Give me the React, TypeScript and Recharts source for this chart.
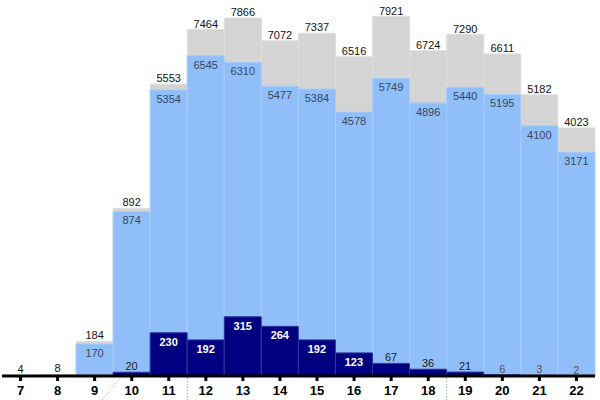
import { Bar, BarChart, LabelList, XAxis, YAxis } from "recharts";

const hours = ["7", "8", "9", "10", "11", "12", "13", "14", "15", "16", "17", "18", "19", "20", "21", "22"];
const totals = [4, 8, 184, 892, 5553, 7464, 7866, 7072, 7337, 6516, 7921, 6724, 7290, 6611, 5182, 4023];
const base = [null, null, 170, 874, 5354, 6545, 6310, 5477, 5384, 4578, 5749, 4896, 5440, 5195, 4100, 3171];
const peak = [null, null, null, 20, 230, 192, 315, 264, 192, 123, 67, 36, 21, 6, 3, 2];

// the value axis is broken: linear up to ~900, compressed above
const breakIn = [0, 892, 3171, 7921];
const breakOut = [0, 892, 1190, 1912];

// dotted separators drawn under the axis, before the given hour
const dividers: Record<string, "slant" | "straight"> = { "10": "slant", "12": "straight", "19": "straight" };

const font = "'Liberation Sans', Arial, sans-serif";

function warp(v: number | null | undefined) {
  if (v == null) return null;
  for (let i = 1; i < breakIn.length; i++) {
    if (v <= breakIn[i] || i === breakIn.length - 1) {
      const t = (v - breakIn[i - 1]) / (breakIn[i] - breakIn[i - 1]);
      return breakOut[i - 1] + t * (breakOut[i] - breakOut[i - 1]);
    }
  }
  return v;
}

const data = hours.map((hour, i) => ({ hour, total: totals[i], base: base[i], peak: peak[i] }));

function HourTick(props: any) {
  const { x, y, payload } = props;
  const half = payload.offset ?? 18.5;
  const edge = x - half;
  const axisY = y - 10;
  const kind = dividers[payload.value];
  return (
    <g>
      {kind === "straight" && (
        <line x1={edge} x2={edge} y1={axisY + 2} y2={axisY + 26} stroke="#9a9a9a" strokeDasharray="1 2" />
      )}
      {kind === "slant" && (
        <line x1={edge - 13} x2={edge + 7} y1={axisY + 26} y2={axisY + 2} stroke="#9a9a9a" strokeDasharray="1 2" />
      )}
      <text x={x} y={y} dy="0.71em" textAnchor="middle" fontFamily={font} fontWeight="bold" fontSize={13} fill="#000">
        {payload.value}
      </text>
    </g>
  );
}

function PeakLabel(props: any) {
  const { x, y, width, height, value } = props;
  if (value == null) return null;
  const cx = x + width / 2;
  if (height > 15) {
    return (
      <text x={cx} y={y + 5} dy="0.71em" textAnchor="middle" fontFamily={font} fontWeight="bold" fontSize={11} fill="#fff">
        {value}
      </text>
    );
  }
  return (
    <text x={cx} y={y - 2} textAnchor="middle" fontFamily={font} fontSize={11} fill={value < 10 ? "#555" : "#222"}>
      {value}
    </text>
  );
}

export default function App() {
  return (
    <div style={{ position: "absolute", left: 0, top: 0 }}>
      <BarChart
        width={600}
        height={400}
        data={data}
        margin={{ top: 0, right: 5, bottom: 0, left: 2 }}
        barCategoryGap={0}
        barGap="-100%"
      >
        <XAxis
          dataKey="hour"
          height={24}
          axisLine={{ stroke: "#000", strokeWidth: 3 }}
          tickLine={{ stroke: "#000", strokeWidth: 3 }}
          tickSize={5}
          tickMargin={5}
          interval={0}
          tick={<HourTick />}
        />
        <YAxis hide domain={[0, 2000]} />
        <Bar dataKey={(d: any) => warp(d.total)} fill="#d4d4d4" stroke="#dedede" isAnimationActive={false}>
          <LabelList dataKey="total" position="top" offset={2} fontFamily={font} fontSize={11} fill="#111" />
        </Bar>
        <Bar dataKey={(d: any) => warp(d.base)} fill="#90bef8" stroke="#a6cbfa" isAnimationActive={false}>
          <LabelList dataKey="base" position="insideTop" offset={5} fontFamily={font} fontSize={11} fill="#3a4660" />
        </Bar>
        <Bar dataKey={(d: any) => warp(d.peak)} fill="#000080" stroke="#2a3a9c" isAnimationActive={false}>
          <LabelList dataKey="peak" content={<PeakLabel />} />
        </Bar>
      </BarChart>
    </div>
  );
}
